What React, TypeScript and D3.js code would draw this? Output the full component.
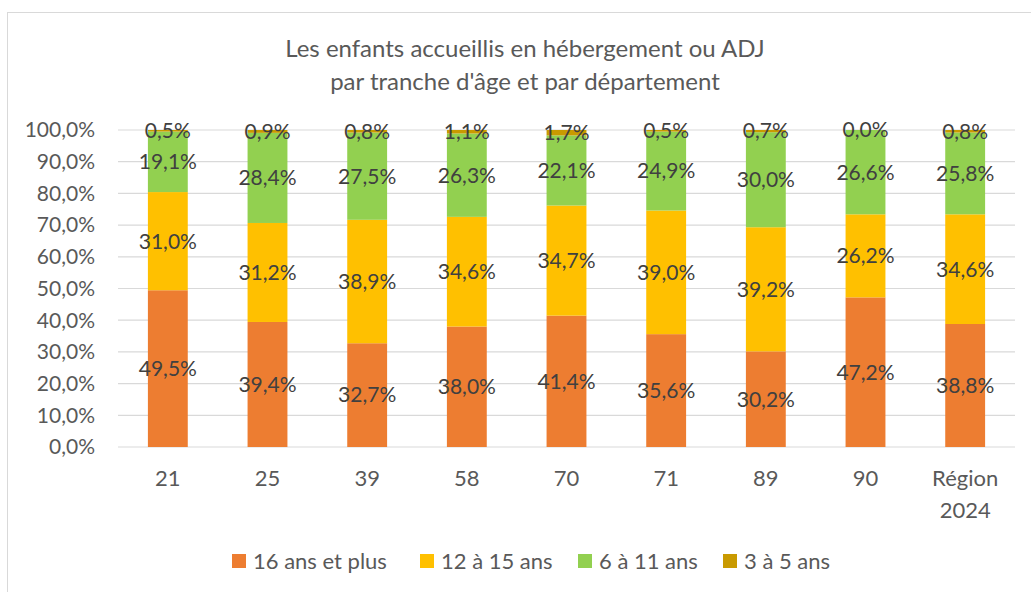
import React from "react";
import * as d3 from "d3";

const categories = ["21", "25", "39", "58", "70", "71", "89", "90", "Région\n2024"];
const seriesNames = ["16 ans et plus", "12 à 15 ans", "6 à 11 ans", "3 à 5 ans"];
const colors = ["#ED7D31", "#FFC000", "#92D050", "#C99A00"];

const ans16plus = [49.5, 39.4, 32.7, 38.0, 41.4, 35.6, 30.2, 47.2, 38.8];
const ans12a15 = [31.0, 31.2, 38.9, 34.6, 34.7, 39.0, 39.2, 26.2, 34.6];
const ans6a11 = [19.1, 28.4, 27.5, 26.3, 22.1, 24.9, 30.0, 26.6, 25.8];
const ans3a5 = [0.5, 0.9, 0.8, 1.1, 1.7, 0.5, 0.7, 0.0, 0.8];

const yTicks = [0, 0.1, 0.2, 0.3, 0.4, 0.5, 0.6, 0.7, 0.8, 0.9, 1.0];
const titleLines = ["Les enfants accueillis en hébergement ou ADJ", "par tranche d'âge et par département"];

const W = 1031;
const H = 592;
const FONT = "Lato, 'Open Sans', sans-serif";
const fmt = (v: number) => v.toFixed(1).replace(".", ",") + "%";

export default function App() {
  const values = [ans16plus, ans12a15, ans6a11, ans3a5];
  const rows = categories.map((c, i) => {
    const row: any = { cat: c };
    seriesNames.forEach((s, k) => (row[s] = values[k][i]));
    return row;
  });
  // 100% stacked: each column normalised to its total
  const stacked = d3.stack<any>().keys(seriesNames).offset(d3.stackOffsetExpand)(rows);

  const x = d3.scaleBand().domain(categories).range([118, 1015]).paddingInner(0.6).paddingOuter(0.3);
  const y = d3.scaleLinear().domain([0, 1]).range([447, 130]);

  const legendX = [232, 420, 578, 723];

  return (
    <svg
      width={W}
      height={H}
      style={{ position: "absolute", left: 0, top: 0, background: "#fff" }}
      fontFamily={FONT}
    >
      <rect x={7.5} y={12.5} width={1040} height={600} fill="#fff" stroke="#d9d9d9" strokeWidth={1} />
      {titleLines.map((t, i) => (
        <text key={i} x={525} y={57 + i * 33} textAnchor="middle" fontSize={24} fill="#595959">
          {t}
        </text>
      ))}
      {yTicks.map((t) => (
        <g key={t}>
          <line x1={118} x2={1015} y1={y(t)} y2={y(t)} stroke="#d9d9d9" strokeWidth={1.2} />
          <text x={95} y={y(t)} dy="0.35em" textAnchor="end" fontSize={21} fill="#595959">
            {fmt(t * 100)}
          </text>
        </g>
      ))}
      {stacked.map((layer, k) => (
        <g key={layer.key} fill={colors[k]}>
          {layer.map((d, i) => (
            <rect
              key={i}
              x={x(categories[i])}
              y={y(d[1])}
              width={x.bandwidth()}
              height={Math.max(0, y(d[0]) - y(d[1]))}
            />
          ))}
        </g>
      ))}
      {stacked.map((layer, k) => (
        <g key={"l" + layer.key}>
          {layer.map((d, i) => (
            <text
              key={i}
              x={(x(categories[i]) as number) + x.bandwidth() / 2}
              y={(y(d[0]) + y(d[1])) / 2}
              dy="0.35em"
              textAnchor="middle"
              fontSize={21}
              fill="#404040"
            >
              {fmt(values[k][i])}
            </text>
          ))}
        </g>
      ))}
      {categories.map((c) => (
        <text key={c} x={(x(c) as number) + x.bandwidth() / 2} y={486} textAnchor="middle" fontSize={22} fill="#595959">
          {c.split("\n").map((line, j) => (
            <tspan key={j} x={(x(c) as number) + x.bandwidth() / 2} dy={j === 0 ? 0 : 32}>
              {line}
            </tspan>
          ))}
        </text>
      ))}
      {seriesNames.map((s, k) => (
        <g key={s}>
          <rect x={legendX[k]} y={554} width={14} height={14} fill={colors[k]} />
          <text x={legendX[k] + 21} y={561} dy="0.35em" fontSize={22} fill="#595959">
            {s}
          </text>
        </g>
      ))}
    </svg>
  );
}
